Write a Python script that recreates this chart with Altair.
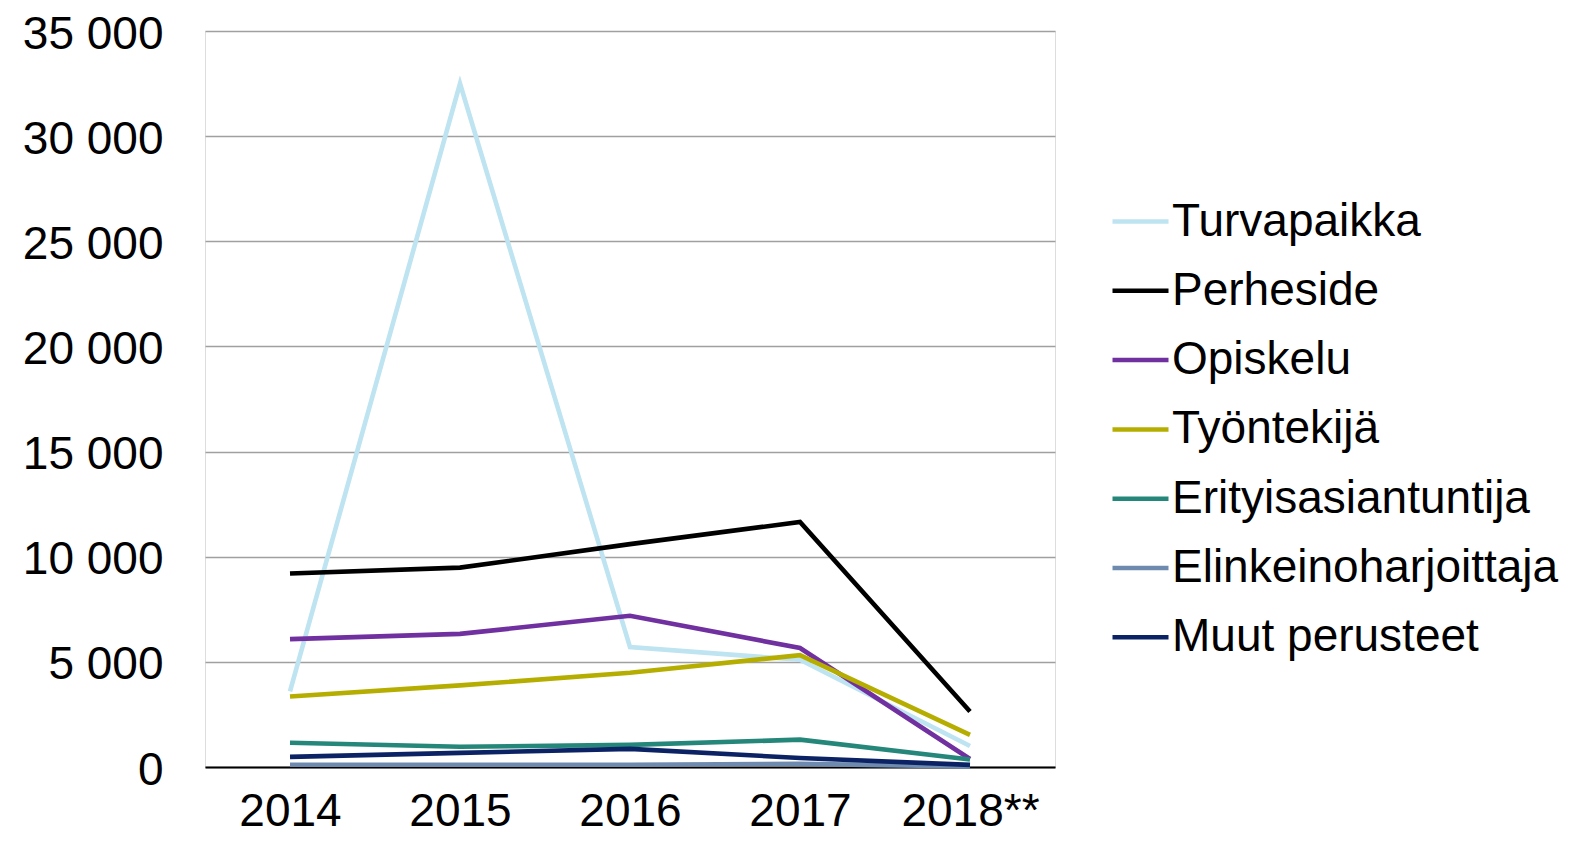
import altair as alt
import pandas as pd

years = ["2014", "2015", "2016", "2017", "2018**"]
series = ["Turvapaikka", "Perheside", "Opiskelu", "Työntekijä",
          "Erityisasiantuntija", "Elinkeinoharjoittaja", "Muut perusteet"]
colors = ["#BEE3F1", "#000000", "#7030A0", "#B5AE00",
          "#25877A", "#6E8BAF", "#0B2265"]

turvapaikka = [3600, 32500, 5700, 5100, 1000]
perheside = [9200, 9480, 10600, 11650, 2640]
opiskelu = [6080, 6330, 7190, 5660, 380]
tyontekija = [3350, 3880, 4480, 5320, 1530]
erityis = [1150, 960, 1050, 1300, 360]
elinkeino = [110, 110, 110, 150, 30]
muut = [480, 670, 860, 430, 100]

values = [turvapaikka, perheside, opiskelu, tyontekija, erityis, elinkeino, muut]

rows = []
for si, (s, vals) in enumerate(zip(series, values)):
    for y, v in zip(years, vals):
        rows.append({"Vuosi": y, "Peruste": s, "Määrä": v, "ord": si})
df = pd.DataFrame(rows)

FONT = "Liberation Sans"

chart = alt.Chart(df).mark_line(strokeWidth=4.6, strokeCap="butt").encode(
    x=alt.X("Vuosi:N", sort=years,
            scale=alt.Scale(type="point", padding=0.5),
            axis=alt.Axis(title=None, labelAngle=0, ticks=False,
                          labelFontSize=46, labelPadding=22,
                          labelColor="#000000", domainColor="#000000",
                          domainWidth=2, labelFont=FONT)),
    y=alt.Y("Määrä:Q",
            scale=alt.Scale(domain=[0, 35000], nice=False),
            axis=alt.Axis(title=None, values=list(range(0, 35001, 5000)),
                          format=",d", ticks=False, domain=False,
                          labelFontSize=46, labelPadding=42, labelOffset=3,
                          labelColor="#000000", labelFont=FONT,
                          gridColor="#A0A0A0", gridWidth=1.3)),
    color=alt.Color("Peruste:N", sort=series,
                    scale=alt.Scale(domain=series, range=colors),
                    legend=alt.Legend(title=None, orient="none",
                                      legendX=905, legendY=160,
                                      symbolType="stroke", symbolSize=3136,
                                      symbolStrokeWidth=4.5, labelFontSize=46,
                                      labelFont=FONT, labelColor="#000000",
                                      rowPadding=15.3, labelOffset=1,
                                      padding=0, labelLimit=700)),
    order=alt.Order("ord:Q"),
    detail="Peruste:N",
).properties(
    width=850, height=736,
    autosize=alt.AutoSizeParams(type="none"),
    padding={"left": 197, "top": 23, "right": 517, "bottom": 69},
).configure_view(
    stroke="#303030", strokeWidth=2
).configure(
    locale={"number": {"decimal": ",", "thousands": " ", "grouping": [3],
                       "currency": ["", " €"]}}
)

chart.save("out.html", embed_options={"renderer": "svg", "actions": False})
